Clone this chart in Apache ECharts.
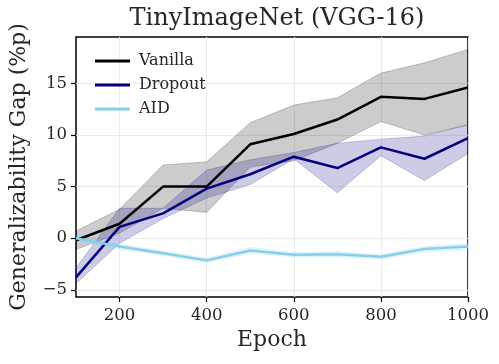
<!DOCTYPE html>
<html>
<head>
<meta charset="utf-8">
<script src="https://cdn.jsdelivr.net/npm/echarts@6/dist/echarts.min.js"></script>
<style>
  html, body { margin: 0; padding: 0; background: #fff; }
  #chart { width: 499px; height: 364px; }
</style>
</head>
<body>
<div id="chart"></div>
<script>
// ==================== DATA ====================
const epochs = [100, 200, 300, 400, 500, 600, 700, 800, 900, 1000];
const xTicks = [200, 400, 600, 800, 1000];
const yTicks = [-5, 0, 5, 10, 15];

const vanilla = [-0.2, 1.4, 5.0, 5.0, 9.1, 10.1, 11.5, 13.7, 13.5, 14.6];
const vanillaLo = [-1.1, 0.5, 2.9, 2.5, 6.9, 7.5, 9.2, 11.3, 10.0, 11.0];
const vanillaHi = [0.7, 2.8, 7.1, 7.4, 11.2, 12.9, 13.6, 16.0, 17.0, 18.3];

const dropout = [-3.8, 1.1, 2.4, 4.8, 6.2, 7.9, 6.8, 8.8, 7.7, 9.7];
const dropoutLo = [-4.4, -0.5, 1.9, 3.9, 5.2, 7.7, 4.4, 8.0, 5.6, 8.2];
const dropoutHi = [-2.9, 2.9, 2.9, 6.6, 7.6, 8.3, 9.2, 9.6, 9.9, 11.0];

const aid = [0.0, -0.8, -1.45, -2.15, -1.2, -1.6, -1.55, -1.8, -1.05, -0.8];
const aidLo = [-0.2, -1.05, -1.65, -2.35, -1.45, -1.8, -1.8, -2.0, -1.35, -1.05];
const aidHi = [0.2, -0.6, -1.25, -1.95, -0.9, -1.4, -1.3, -1.6, -0.8, -0.55];

// ==================== CHART ====================
const FONT = '"DejaVu Serif", serif';
const chart = echarts.init(document.getElementById('chart'), null, { renderer: 'canvas' });

// band drawn as one polygon through the axis scales
function band(name, lo, hi, rgb) {
  const data = epochs.map((e, i) => [e, lo[i], hi[i]]);
  return {
    name: name + ' band', type: 'custom', silent: true, z: 1,
    data: data,
    encode: { x: 0, y: [1, 2] },
    renderItem: (params, api) => {
      if (params.dataIndex !== 0) return null;
      const top = data.map(d => api.coord([d[0], d[2]]));
      const bot = data.map(d => api.coord([d[0], d[1]])).reverse();
      return {
        type: 'polygon',
        shape: { points: top.concat(bot) },
        style: { fill: `rgba(${rgb},0.2)`, stroke: `rgba(${rgb},0.2)`, lineWidth: 1 }
      };
    }
  };
}

function line(name, vals, color) {
  return {
    name: name, type: 'line', z: 3,
    data: epochs.map((e, i) => [e, vals[i]]),
    symbol: 'none', lineStyle: { color: color, width: 2.5 }, itemStyle: { color: color }
  };
}

chart.setOption({
  backgroundColor: '#fff',
  animation: false,
  textStyle: { fontFamily: FONT },
  title: {
    text: 'TinyImageNet (VGG-16)', left: 272, top: 2, textAlign: 'center',
    textStyle: { fontFamily: FONT, fontSize: 24, fontWeight: 'normal', color: '#262626' }
  },
  grid: { left: 76, right: 31, top: 37, bottom: 67, show: true, borderColor: '#000', borderWidth: 1.5, outerBoundsMode: 'none' },
  legend: {
    data: ['Vanilla', 'Dropout', 'AID'], orient: 'vertical', left: 90, top: 46,
    icon: 'rect', itemWidth: 35, itemHeight: 3, itemGap: 4,
    textStyle: { fontFamily: FONT, fontSize: 16, color: '#262626', lineHeight: 20, padding: [0, 0, 0, 4] }
  },
  xAxis: {
    type: 'value', min: 100, max: 1000,
    name: 'Epoch', nameLocation: 'middle', nameGap: 31,
    nameTextStyle: { fontFamily: FONT, fontSize: 22, color: '#262626' },
    axisLine: { show: false, onZero: false },
    axisTick: { show: true, customValues: xTicks, length: 5, lineStyle: { color: '#000', width: 1.2 } },
    axisLabel: { customValues: xTicks, margin: 10, fontFamily: FONT, fontSize: 16.5, color: '#262626', formatter: v => String(v) },
    splitLine: { show: true, lineStyle: { color: '#ebebeb', width: 1 } }
  },
  yAxis: {
    type: 'value', min: -5.7, max: 19.5,
    name: 'Generalizability Gap (%p)', nameLocation: 'middle', nameGap: 46,
    nameTextStyle: { fontFamily: FONT, fontSize: 22, color: '#262626' },
    axisLine: { show: false, onZero: false },
    axisTick: { show: true, customValues: yTicks, length: 5, lineStyle: { color: '#000', width: 1.2 } },
    axisLabel: {
      customValues: yTicks, margin: 9, fontFamily: FONT, fontSize: 16.5, color: '#262626',
      formatter: v => String(v).replace('-', '\u2212')
    },
    splitLine: { show: true, lineStyle: { color: '#ebebeb', width: 1 } }
  },
  series: [
    band('Vanilla', vanillaLo, vanillaHi, '0,0,0'),
    band('Dropout', dropoutLo, dropoutHi, '0,0,128'),
    band('AID', aidLo, aidHi, '135,206,235'),
    line('Vanilla', vanilla, '#000000'),
    line('Dropout', dropout, '#000080'),
    line('AID', aid, '#87ceeb')
  ]
});
</script>
</body>
</html>
